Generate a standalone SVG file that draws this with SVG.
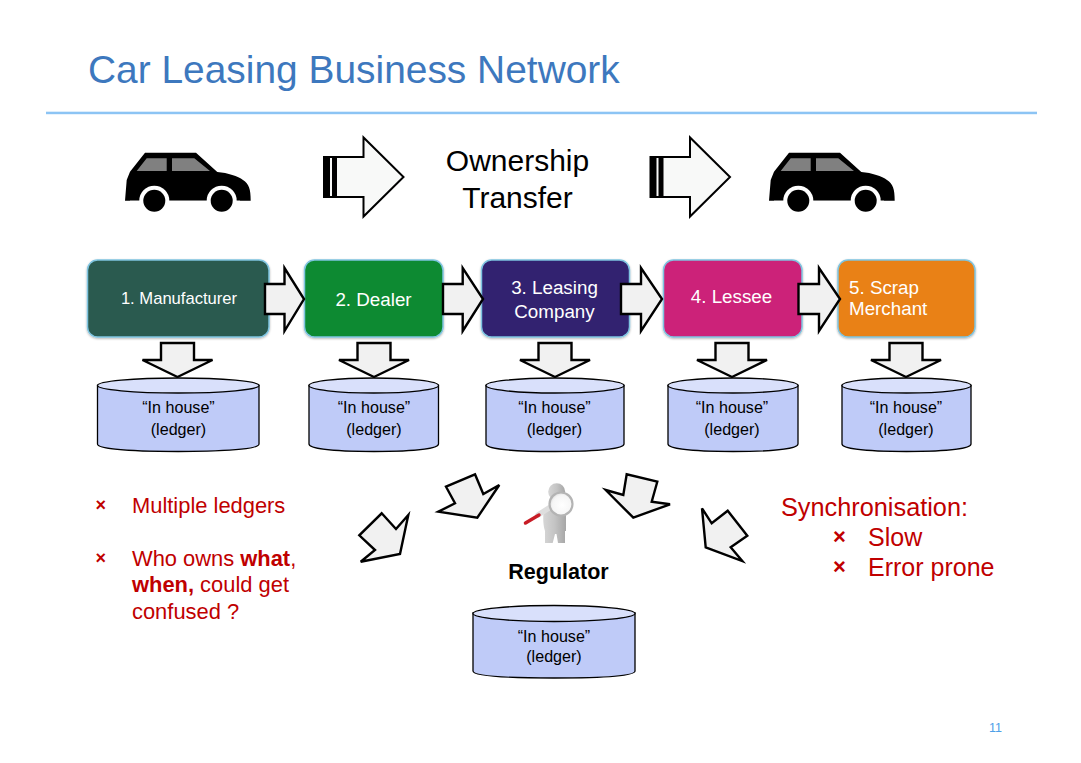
<svg xmlns="http://www.w3.org/2000/svg" width="1081" height="763" viewBox="0 0 1081 763">
<style>
text{font-family:"Liberation Sans",Arial,sans-serif}
.ar{fill:#f1f1f1;stroke:#000;stroke-width:2.4;stroke-linejoin:miter}
.big{fill:#f8f9f8;stroke:#000;stroke-width:2}
.bx{stroke:#7fc4e0;stroke-width:1.5;filter:url(#sh)}
.wt{fill:#fff;font-size:18.8px}
.lt{fill:#000;font-size:16.1px;text-anchor:middle}
.rd{fill:#c00000;font-size:21.9px}
.rs{fill:#c00000;font-size:25px}
.xm{fill:#c00000;font-weight:bold}
.cy{fill:#bfcbf8;stroke:#000;stroke-width:1.3}
.ct{fill:#d9e0fb;stroke:#000;stroke-width:1.3}
</style>
<defs>
<filter id="sh" x="-5%" y="-5%" width="110%" height="115%"><feDropShadow dx="0" dy="1" stdDeviation="1.2" flood-color="#000" flood-opacity=".3"/></filter>
<filter id="soft" x="-20%" y="-20%" width="140%" height="140%"><feGaussianBlur stdDeviation=".6"/></filter>
<linearGradient id="pg" x1="0" y1="0" x2="1" y2="0"><stop offset="0" stop-color="#d6d6d6"/><stop offset=".5" stop-color="#c4c4c4"/><stop offset="1" stop-color="#a6a6a6"/></linearGradient>
<radialGradient id="lens" cx=".55" cy=".55" r=".6"><stop offset="0" stop-color="#fff"/><stop offset=".7" stop-color="#f6f6f6"/><stop offset="1" stop-color="#d8d8d8"/></radialGradient>
<g id="car">
<path d="M125 200.700L126.700 180L130 171.700L145 152.700H196L217.300 172C228 173 238 176 243 180C249 184 250.700 189 250.700 200.700Z" fill="#000"/>
<path d="M136.700 171L146.700 158.300H166.700V171ZM172 158.300H194.300L210 171H172Z" fill="#808080"/>
<circle cx="154.300" cy="200.700" r="15" fill="#fff"/><circle cx="221.700" cy="200.700" r="15" fill="#fff"/>
<rect x="130" y="200.700" width="110" height="16" fill="#fff"/>
<circle cx="154.300" cy="200.700" r="11" fill="#000"/><circle cx="221.700" cy="200.700" r="11" fill="#000"/>
</g>
<g id="bigArrow">
<path class="big" d="M324 157H363.500V137.500L403.500 177L363.500 216.500V197H324Z"/>
<rect x="323.500" y="157" width="6.500" height="40" fill="#000"/><rect x="332" y="157" width="5" height="40" fill="#000"/>
</g>
<path id="dArrow" class="ar" d="M-16.500 -34H16.500V-17H35L0 0L-35 -17H-16.500Z"/>
</defs>

<text x="88" y="83" font-size="38.900" fill="#3d78be">Car Leasing Business Network</text>
<rect x="46" y="111.700" width="991" height="2.500" fill="#8cc4f4"/>

<g id="car-left"><use href="#car"/></g>
<g id="car-right"><use href="#car" x="644"/></g>
<g id="transfer-label">
<text x="517.500" y="171" font-size="30" text-anchor="middle">Ownership</text>
<text x="517.500" y="208" font-size="30" text-anchor="middle">Transfer</text>
</g>

<g id="connectors">
<use href="#bigArrow"/>
<use href="#bigArrow" x="326.500"/>
</g>

<g id="node1"><rect class="bx" x="87.500" y="260" width="181.500" height="77" rx="10" fill="#2b5a4f"/><text x="179" y="304" text-anchor="middle" font-size="16.600" fill="#fff">1. Manufacturer</text></g>
<g id="node2"><rect class="bx" x="304.500" y="260" width="138.500" height="77" rx="10" fill="#0e8a31"/><text class="wt" x="373.500" y="306" text-anchor="middle">2. Dealer</text></g>
<g id="node3"><rect class="bx" x="481.500" y="260" width="148" height="77" rx="10" fill="#322170"/><text class="wt" x="554.500" y="294" text-anchor="middle">3. Leasing</text><text class="wt" x="554.500" y="318" text-anchor="middle">Company</text></g>
<g id="node4"><rect class="bx" x="663.500" y="260" width="138.500" height="77" rx="10" fill="#cc2279"/><text class="wt" x="731.500" y="303" text-anchor="middle">4. Lessee</text></g>
<g id="node5"><rect class="bx" x="838" y="260" width="137" height="77" rx="10" fill="#e98112"/><text class="wt" x="849" y="294">5. Scrap</text><text class="wt" x="849" y="315">Merchant</text></g>

<g id="flow-connectors">
<path class="ar" d="M265 284H284.500V268L304 299L284.500 331V314H265Z"/>
<path class="ar" d="M443 284H462.700V268L483 299L462.700 331V314H443Z"/>
<path class="ar" d="M621 284H641V268L662 299L641 331V314H621Z"/>
<path class="ar" d="M798.500 284H819V268L840 299L819 331V314H798.500Z"/>
<use href="#dArrow" x="177.500" y="377"/>
<use href="#dArrow" x="374" y="377"/>
<use href="#dArrow" x="555" y="377"/>
<use href="#dArrow" x="732" y="377"/>
<use href="#dArrow" x="906" y="377"/>
<path class="ar" d="M381.700 513.300L396 529L408.300 515L400 554L360.700 561.700L375 550L359.300 535.300Z"/>
<path class="ar" d="M475 474.300L483.300 494L499.300 485L477.300 517.700L438.300 511.700L455 503.300L446 486.700Z"/>
<path class="ar" d="M626.700 474.300L623.300 495L605.700 490L633.300 517.700L670 504.300L651.700 501.700L657.300 481.700Z"/>
<path class="ar" d="M702 508.300L711.700 523.300L727.700 510.700L747.300 535.700L730.700 547.300L742.300 561L705.700 547.300Z"/>
</g>

<g id="ledger1"><path class="cy" d="M97.500 385.500V444C97.500 448 118 451.500 178.250 451.500S259 448 259 444V385.500Z"/><ellipse class="ct" cx="178.250" cy="385.500" rx="80.750" ry="7.500"/><text class="lt" x="178.500" y="413">“In house”</text><text class="lt" x="178.500" y="435">(ledger)</text></g>
<g id="ledger2"><path class="cy" d="M309 385.500V444C309 448 326 451.500 374 451.500S438.500 448 438.500 444V385.500Z"/><ellipse class="ct" cx="373.750" cy="385.500" rx="64.750" ry="7.500"/><text class="lt" x="374" y="413">“In house”</text><text class="lt" x="374" y="435">(ledger)</text></g>
<g id="ledger3"><path class="cy" d="M486 385.500V444C486 448 504 451.500 555 451.500S624 448 624 444V385.500Z"/><ellipse class="ct" cx="555" cy="385.500" rx="69" ry="7.500"/><text class="lt" x="554.500" y="413">“In house”</text><text class="lt" x="554.500" y="435">(ledger)</text></g>
<g id="ledger4"><path class="cy" d="M668 385.500V444C668 448 685 451.500 733 451.500S798 448 798 444V385.500Z"/><ellipse class="ct" cx="733" cy="385.500" rx="65" ry="7.500"/><text class="lt" x="732" y="413">“In house”</text><text class="lt" x="732" y="435">(ledger)</text></g>
<g id="ledger5"><path class="cy" d="M842 385.500V444C842 448 859 451.500 906.500 451.500S971 448 971 444V385.500Z"/><ellipse class="ct" cx="906.500" cy="385.500" rx="64.500" ry="7.500"/><text class="lt" x="906" y="413">“In house”</text><text class="lt" x="906" y="435">(ledger)</text></g>

<g id="regulator">
<g filter="url(#soft)">
<path d="M543.500 513C546 507 552 503 558 503L566 512V531H565V543H558L556.500 534H555L552.700 543H545V531C543 525 543 518 543.500 513Z" fill="url(#pg)"/>
<circle cx="556.700" cy="491.700" r="8.500" fill="url(#pg)"/>
<path d="M538 515L552 506" stroke="#dedede" stroke-width="5.500" stroke-linecap="round"/>
<path d="M525.500 523L539 515" stroke="#c81f28" stroke-width="3.500" stroke-linecap="round"/>
</g>
<circle cx="561" cy="504" r="11.500" fill="url(#lens)" stroke="#b4b4b4" stroke-width="2.200"/>
<text x="558.500" y="578.500" font-size="21.500" font-weight="bold" text-anchor="middle">Regulator</text>
</g>
<g id="ledger6"><path class="cy" d="M473 613V671C473 675 495 678 554 678S635 675 635 671V613Z"/><ellipse class="ct" cx="554" cy="613.500" rx="81" ry="8"/><text class="lt" x="554" y="642">“In house”</text><text class="lt" x="554" y="662">(ledger)</text></g>

<g id="notes-left">
<text class="xm" x="95.500" y="511" font-size="18">×</text><text class="rd" x="132" y="513">Multiple ledgers</text>
<text class="xm" x="95.500" y="564" font-size="18">×</text><text class="rd" x="132" y="566">Who owns <tspan font-weight="bold">what</tspan>,</text>
<text class="rd" x="132" y="592"><tspan font-weight="bold">when,</tspan> could get</text>
<text class="rd" x="132" y="619">confused ?</text>
</g>
<g id="notes-right">
<text class="rs" x="781" y="516" style="font-size:25.300px">Synchronisation:</text>
<text class="xm" x="833" y="544" font-size="22">×</text><text class="rs" x="868" y="546">Slow</text>
<text class="xm" x="833" y="574" font-size="22">×</text><text class="rs" x="868" y="576">Error prone</text>
</g>
<text x="989" y="732" font-size="12.500" fill="#4ea0e8">11</text>
</svg>
